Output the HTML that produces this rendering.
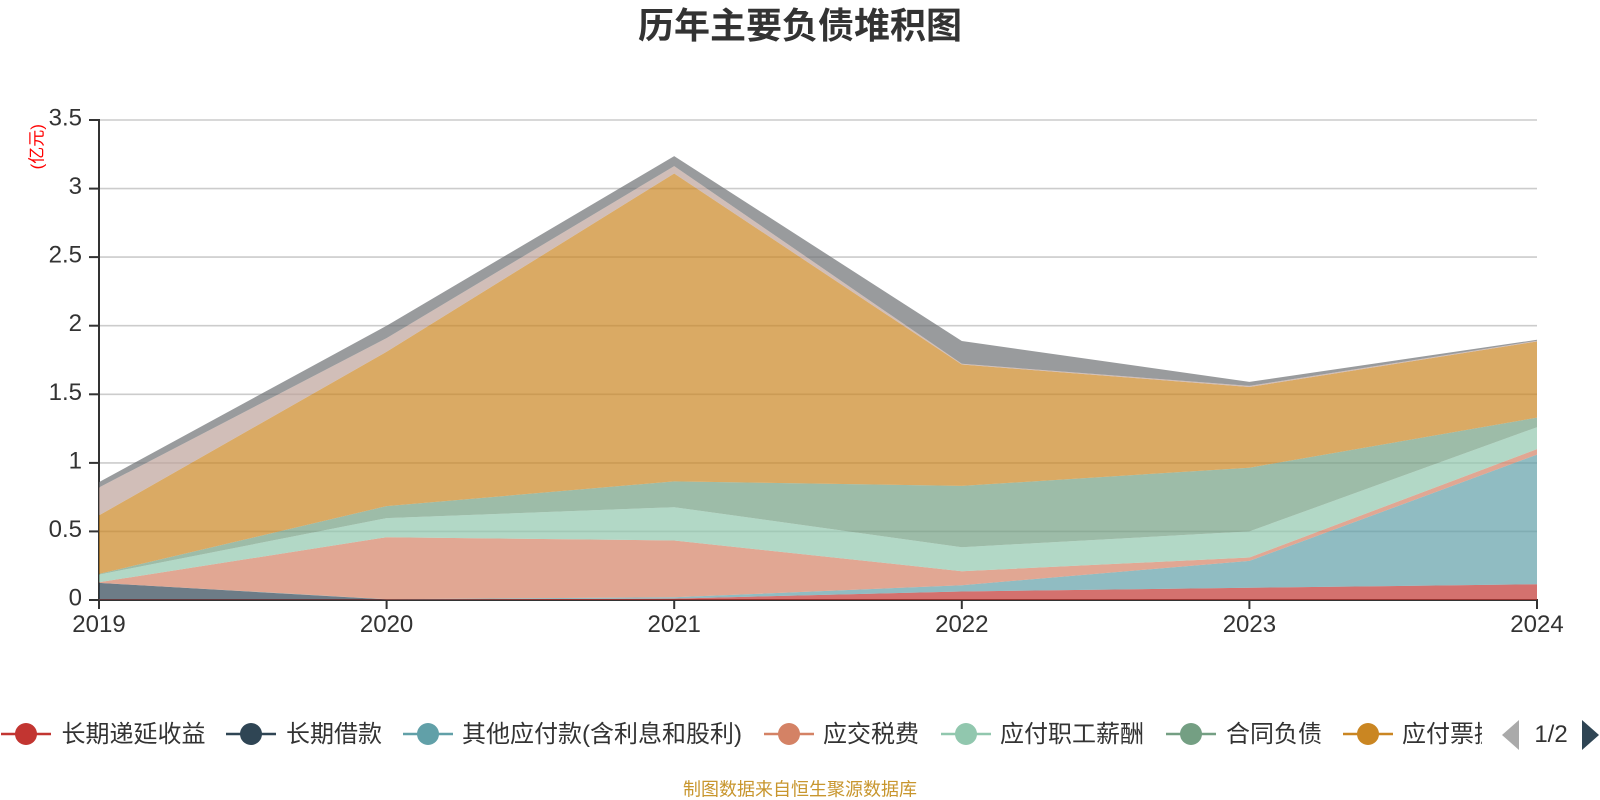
<!DOCTYPE html>
<html>
<head>
<meta charset="utf-8">
<style>
  html, body { margin: 0; padding: 0; background: #ffffff; }
  body { width: 1600px; height: 800px; overflow: hidden; }
  svg { display: block; }
  text { font-family: "Liberation Sans", "Noto Sans CJK SC", sans-serif; }
</style>
</head>
<body>
<svg width="1600" height="800" viewBox="0 0 1600 800" xmlns="http://www.w3.org/2000/svg">
  <rect width="1600" height="800" fill="#ffffff"/>

  <!-- Title -->
  <text x="800" y="38" text-anchor="middle" font-size="36" font-weight="bold" fill="#333333">历年主要负债堆积图</text>

  <!-- Grid lines -->
  <g stroke="#cccccc" stroke-width="1.6">
    <line x1="99" y1="120" x2="1537" y2="120"/>
    <line x1="99" y1="188.6" x2="1537" y2="188.6"/>
    <line x1="99" y1="257.1" x2="1537" y2="257.1"/>
    <line x1="99" y1="325.7" x2="1537" y2="325.7"/>
    <line x1="99" y1="394.3" x2="1537" y2="394.3"/>
    <line x1="99" y1="462.9" x2="1537" y2="462.9"/>
    <line x1="99" y1="531.4" x2="1537" y2="531.4"/>
  </g>

  <!-- Axes -->
  <g stroke="#333333" stroke-width="2">
    <line x1="99" y1="119" x2="99" y2="601"/>
    <line x1="98" y1="600" x2="1538" y2="600"/>
    <!-- y ticks -->
    <line x1="89" y1="120" x2="99" y2="120"/>
    <line x1="89" y1="188.6" x2="99" y2="188.6"/>
    <line x1="89" y1="257.1" x2="99" y2="257.1"/>
    <line x1="89" y1="325.7" x2="99" y2="325.7"/>
    <line x1="89" y1="394.3" x2="99" y2="394.3"/>
    <line x1="89" y1="462.9" x2="99" y2="462.9"/>
    <line x1="89" y1="531.4" x2="99" y2="531.4"/>
    <line x1="89" y1="600" x2="99" y2="600"/>
    <!-- x ticks -->
    <line x1="99" y1="600" x2="99" y2="609"/>
    <line x1="386.6" y1="600" x2="386.6" y2="609"/>
    <line x1="674.2" y1="600" x2="674.2" y2="609"/>
    <line x1="961.8" y1="600" x2="961.8" y2="609"/>
    <line x1="1249.4" y1="600" x2="1249.4" y2="609"/>
    <line x1="1537" y1="600" x2="1537" y2="609"/>
  </g>

  <!-- Stacked areas (opacity 0.7) -->
  <g fill-opacity="0.7" stroke="none">
    <!-- 长期递延收益 -->
    <polygon fill="#c23531" points="99,599.45 386.6,599.45 674.2,598.6 961.8,591.5 1249.4,587.8 1537,584.2 1537,600 1249.4,600 961.8,600 674.2,600 386.6,600 99,600"/>
    <!-- 长期借款 -->
    <polygon fill="#2f4554" points="99,582.9 386.6,599.45 674.2,598.6 961.8,591.5 1249.4,587.8 1537,584.2 1537,584.2 1249.4,587.8 961.8,591.5 674.2,598.6 386.6,599.45 99,599.45"/>
    <!-- 其他应付款 -->
    <polygon fill="#61a0a8" points="99,582.9 386.6,599.2 674.2,597.3 961.8,585.2 1249.4,560.9 1537,454.6 1537,584.2 1249.4,587.8 961.8,591.5 674.2,598.6 386.6,599.45 99,582.9"/>
    <!-- 应交税费 -->
    <polygon fill="#d48265" points="99,582.2 386.6,537.2 674.2,540.5 961.8,571.2 1249.4,557.5 1537,449.1 1537,454.6 1249.4,560.9 961.8,585.2 674.2,597.3 386.6,599.2 99,582.9"/>
    <!-- 应付职工薪酬 -->
    <polygon fill="#91c7ae" points="99,574.6 386.6,518.1 674.2,507.2 961.8,547.2 1249.4,531.4 1537,427.2 1537,449.1 1249.4,557.5 961.8,571.2 674.2,540.5 386.6,537.2 99,582.2"/>
    <!-- 合同负债 -->
    <polygon fill="#749f83" points="99,573.9 386.6,506.1 674.2,481.4 961.8,485.9 1249.4,467.7 1537,417.6 1537,427.2 1249.4,531.4 961.8,547.2 674.2,507.2 386.6,518.1 99,574.6"/>
    <!-- 应付票据 -->
    <polygon fill="#ca8622" points="99,515.4 386.6,351.8 674.2,173.5 961.8,364.5 1249.4,387.0 1537,341.5 1537,417.6 1249.4,467.7 961.8,485.9 674.2,481.4 386.6,506.1 99,573.9"/>
    <!-- series 8 -->
    <polygon fill="#bda29a" points="99,487.5 386.6,338.1 674.2,166.1 961.8,363.8 1249.4,385.9 1537,340.7 1537,341.5 1249.4,387.0 961.8,364.5 674.2,173.5 386.6,351.8 99,515.4"/>
    <!-- series 9 -->
    <polygon fill="#6e7074" points="99,482.1 386.6,325.7 674.2,156.1 961.8,341.0 1249.4,381.9 1537,339.8 1537,340.7 1249.4,385.9 961.8,363.8 674.2,166.1 386.6,338.1 99,487.5"/>
  </g>

  <!-- Y axis labels -->
  <g font-size="24" fill="#333333" text-anchor="end">
    <text x="82" y="125.5">3.5</text>
    <text x="82" y="194.1">3</text>
    <text x="82" y="262.6">2.5</text>
    <text x="82" y="331.2">2</text>
    <text x="82" y="399.8">1.5</text>
    <text x="82" y="468.4">1</text>
    <text x="82" y="536.9">0.5</text>
    <text x="82" y="605.5">0</text>
  </g>

  <!-- Y axis name -->
  <text transform="translate(42.7,146.7) rotate(-90)" text-anchor="middle" font-size="17" fill="#ff0000">(亿元)</text>

  <!-- X axis labels -->
  <g font-size="24" fill="#333333" text-anchor="middle">
    <text x="99" y="632">2019</text>
    <text x="386.6" y="632">2020</text>
    <text x="674.2" y="632">2021</text>
    <text x="961.8" y="632">2022</text>
    <text x="1249.4" y="632">2023</text>
    <text x="1537" y="632">2024</text>
  </g>

  <!-- Legend -->
  <g stroke-width="2.5">
    <line x1="1" y1="734" x2="51" y2="734" stroke="#c23531"/>
    <circle cx="26" cy="734" r="11" fill="#c23531"/>
    <line x1="226" y1="734" x2="276" y2="734" stroke="#2f4554"/>
    <circle cx="251" cy="734" r="11" fill="#2f4554"/>
    <line x1="403" y1="734" x2="453" y2="734" stroke="#61a0a8"/>
    <circle cx="428" cy="734" r="11" fill="#61a0a8"/>
    <line x1="764" y1="734" x2="814" y2="734" stroke="#d48265"/>
    <circle cx="789" cy="734" r="11" fill="#d48265"/>
    <line x1="941" y1="734" x2="991" y2="734" stroke="#91c7ae"/>
    <circle cx="966" cy="734" r="11" fill="#91c7ae"/>
    <line x1="1166" y1="734" x2="1216" y2="734" stroke="#749f83"/>
    <circle cx="1191" cy="734" r="11" fill="#749f83"/>
    <line x1="1343" y1="734" x2="1393" y2="734" stroke="#ca8622"/>
    <circle cx="1368" cy="734" r="11" fill="#ca8622"/>
  </g>
  <defs>
    <clipPath id="legclip"><rect x="0" y="700" width="1482" height="60"/></clipPath>
  </defs>
  <g font-size="24" fill="#333333" clip-path="url(#legclip)">
    <text x="61.5" y="742">长期递延收益</text>
    <text x="286" y="742">长期借款</text>
    <text x="462" y="742">其他应付款(含利息和股利)</text>
    <text x="823" y="742">应交税费</text>
    <text x="1000" y="742">应付职工薪酬</text>
    <text x="1226" y="742">合同负债</text>
    <text x="1402" y="742">应付票据</text>
  </g>

  <!-- Legend pager -->
  <polygon points="1502,735 1519,720 1519,750" fill="#aaaaaa"/>
  <text x="1551" y="742" text-anchor="middle" font-size="24" fill="#333333">1/2</text>
  <polygon points="1582,720 1599,735 1582,750" fill="#2f4554"/>

  <!-- Footer -->
  <text x="800" y="795.5" text-anchor="middle" font-size="18" fill="#c8962e">制图数据来自恒生聚源数据库</text>
</svg>
</body>
</html>
